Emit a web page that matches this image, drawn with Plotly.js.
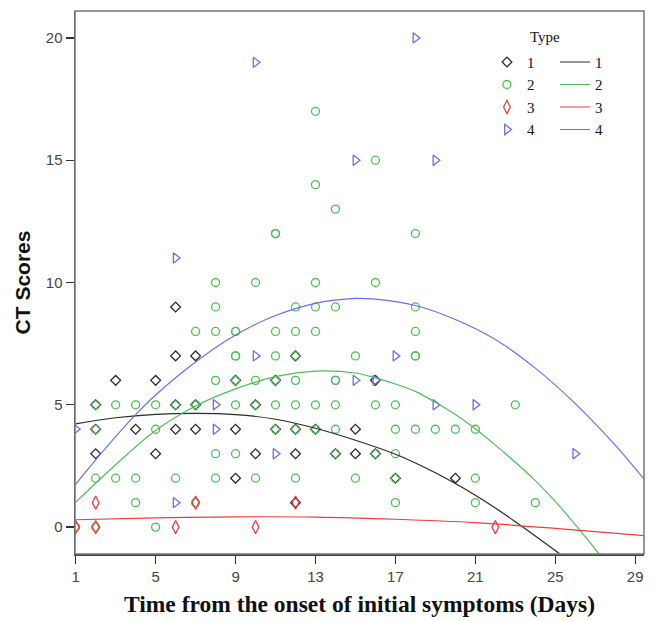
<!DOCTYPE html>
<html>
<head>
<meta charset="utf-8">
<script src="https://cdn.plot.ly/plotly-3.0.1.min.js"></script>
<style>html,body{margin:0;padding:0;background:#fff;}#chart{width:657px;height:621px;}</style>
</head>
<body>
<div id="chart"></div>
<script>
// ---- Observed points (day, CT score) per Type ----
var type1Days   = [2,2,2,3,4,5,5,6,6,6,6,7,7,7,9,9,9,10,10,11,11,12,12,12,12,13,14,15,15,16,16,17,20];
var type1Scores = [5,4,3,6,4,6,3,9,7,5,4,7,5,4,6,4,2,5,3,6,4,7,4,3,1,4,3,4,3,6,3,2,2];

var type2Days   = [1,2,5,
                   4,7,17,21,24,
                   2,3,4,6,8,10,12,15,17,21,
                   8,9,14,16,17,
                   2,5,11,12,13,14,17,18,19,20,21,
                   2,3,4,5,6,7,9,10,11,12,13,14,16,17,23,
                   8,9,10,11,12,14,14,
                   9,9,11,12,15,18,18,
                   7,8,9,9,11,12,13,18,
                   8,12,13,14,18,
                   8,10,13,16,
                   11,11,18,
                   14,13,16,13];
var type2Scores = [0,0,0,
                   1,1,1,1,1,
                   2,2,2,2,2,2,2,2,2,2,
                   3,3,3,3,3,
                   4,4,4,4,4,4,4,4,4,4,4,
                   5,5,5,5,5,5,5,5,5,5,5,5,5,5,5,
                   6,6,6,6,6,6,6,
                   7,7,7,7,7,7,7,
                   8,8,8,8,8,8,8,8,
                   9,9,9,9,9,
                   10,10,10,10,
                   12,12,12,
                   13,14,15,17];

var type3Days   = [1,2,2,6,7,10,12,22];
var type3Scores = [0,0,1,0,1,0,1,0];

var type4Days   = [1,6,6,8,8,10,10,11,15,15,16,17,18,19,19,21,26];
var type4Scores = [4,1,11,5,4,7,19,3,6,15,6,7,20,15,5,5,3];

// ---- Fit lines ----
var fit1Days   = [1,3,5,7,9,11,13,15,17,18,19,20,21,22,23,24,25,25.5];
var fit1Scores = [4.22,4.47,4.61,4.65,4.6,4.41,4.04,3.55,2.98,2.62,2.22,1.78,1.3,0.78,0.22,-0.36,-0.96,-1.27];

var fit2Days   = [1,3,5,7,9,11,13,15,16,17,18,19,20,21,22,23,24,25,26,27,27.5];
var fit2Scores = [1.02,2.55,3.95,4.95,5.65,6.15,6.38,6.3,6.1,5.85,5.55,5.1,4.6,4.02,3.35,2.65,1.9,1.05,0.1,-0.9,-1.4];

var fit3Days   = [1,5,9,13,17,21,25,29.44];
var fit3Scores = [0.3,0.38,0.42,0.41,0.32,0.18,-0.05,-0.35];

var fit4Days   = [1,2,3,4,5,7,9,11,13,15,16,18,20,22,24,26,28,29.44];
var fit4Scores = [1.76,2.75,3.7,4.6,5.4,6.75,7.85,8.65,9.15,9.35,9.32,9.06,8.49,7.67,6.5,5.05,3.35,1.96];

var typeNames = ['1','2','3','4'];
var xTicks = [1,5,9,13,17,21,25,29];
var yTicks = [0,5,10,15,20];

var cBlack = '#2a2a2a', cGreen = '#4cbf55', cRed = '#f03c3c', cBlue = '#6b6bf5';

function pts(x, y, name, sym, size, color) {
  return {x: x, y: y, type: 'scatter', mode: 'markers', name: name, legend: 'legend',
    marker: {symbol: sym, size: size, color: color, line: {color: color, width: 1.3}},
    hoverinfo: 'x+y'};
}
function fit(x, y, name, color) {
  return {x: x, y: y, type: 'scatter', mode: 'lines', name: name, legend: 'legend2',
    line: {color: color, width: 1.2, shape: 'spline', smoothing: 1}};
}

var data = [
  pts(type1Days, type1Scores, typeNames[0], 'diamond-open', 7.5, cBlack),
  pts(type2Days, type2Scores, typeNames[1], 'circle-open', 8, cGreen),
  pts(type3Days, type3Scores, typeNames[2], 'diamond-tall-open', 9.5, cRed),
  pts(type4Days, type4Scores, typeNames[3], 'triangle-right-open', 9, cBlue),
  fit(fit1Days, fit1Scores, typeNames[0], cBlack),
  fit(fit2Days, fit2Scores, typeNames[1], cGreen),
  fit(fit3Days, fit3Scores, typeNames[2], cRed),
  fit(fit4Days, fit4Scores, typeNames[3], cBlue)
];

var legFont = {family: '"Liberation Serif", "Times New Roman", serif', size: 15, color: '#111'};
var tickFont = {family: '"Liberation Sans", Arial, sans-serif', size: 15, color: '#444'};

var layout = {
  width: 657, height: 621,
  margin: {l: 75, r: 13, t: 11, b: 67},
  paper_bgcolor: '#fff', plot_bgcolor: '#fff',
  showlegend: true,
  xaxis: {
    range: [0.965, 29.44], tickmode: 'array', tickvals: xTicks, ticktext: xTicks.map(String),
    ticks: 'outside', ticklen: 8, tickcolor: '#333', tickwidth: 1.2, showgrid: false, zeroline: false,
    showline: true, linecolor: '#444', linewidth: 1.5, mirror: false,
    tickfont: tickFont,
    title: {text: 'Time from the onset of initial symptoms (Days)', standoff: 12,
      font: {family: '"Liberation Serif", "Times New Roman", serif', size: 23.5, color: '#111', weight: 'bold'}}
  },
  yaxis: {
    range: [-1.1, 21.1], tickmode: 'array', tickvals: yTicks, ticktext: yTicks.map(String),
    ticks: 'outside', ticklen: 8, tickcolor: '#333', tickwidth: 1.2, showgrid: false, zeroline: false,
    showline: true, linecolor: '#444', linewidth: 1.5, mirror: false,
    tickfont: tickFont,
    title: {text: 'CT Scores', standoff: 9,
      font: {family: '"Liberation Sans", Arial, sans-serif', size: 21, color: '#111', weight: 'bold'}}
  },
  legend: {x: 0.724, y: 0.936, xanchor: 'left', yanchor: 'top', bgcolor: 'rgba(0,0,0,0)',
    font: legFont, tracegroupgap: 0, itemwidth: 30},
  legend2: {x: 0.8435, y: 0.936, xanchor: 'left', yanchor: 'top', bgcolor: 'rgba(0,0,0,0)',
    font: legFont, tracegroupgap: 0, itemwidth: 30},
  annotations: [{text: 'Type', xref: 'paper', yref: 'paper', x: 0.826, y: 0.9516,
    xanchor: 'center', yanchor: 'middle', showarrow: false, font: legFont}],
  shapes: [{type: 'rect', xref: 'paper', yref: 'paper', x0: 0, x1: 1, y0: 0, y1: 1,
    line: {color: '#777', width: 1.5}, layer: 'above'}]
};

Plotly.newPlot('chart', data, layout, {displayModeBar: false, staticPlot: true});
</script>
</body>
</html>
